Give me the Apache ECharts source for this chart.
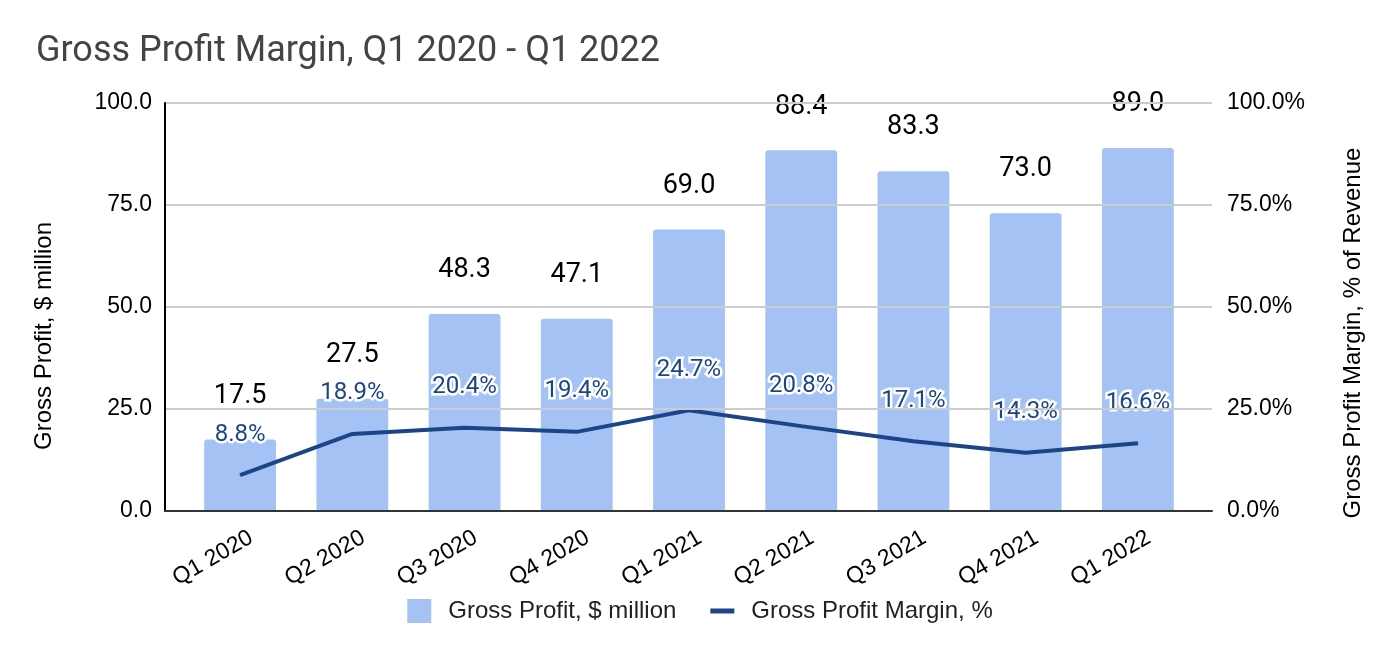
<!DOCTYPE html>
<html>
<head>
<meta charset="utf-8">
<script src="https://cdn.jsdelivr.net/npm/echarts@6/dist/echarts.min.js"></script>
<style>
html,body{margin:0;padding:0;background:#fff;}
#chart{width:1400px;height:658px;}
</style>
</head>
<body>
<div id="chart"></div>
<script>
const categories = ['Q1 2020','Q2 2020','Q3 2020','Q4 2020','Q1 2021','Q2 2021','Q3 2021','Q4 2021','Q1 2022'];
const grossProfit = [17.5, 27.5, 48.3, 47.1, 69.0, 88.4, 83.3, 73.0, 89.0];
const grossMargin = [8.8, 18.9, 20.4, 19.4, 24.7, 20.8, 17.1, 14.3, 16.6];
const leftTicks = [0, 25, 50, 75, 100];
const rightTicks = [0, 25, 50, 75, 100];

const barName = 'Gross Profit, $ million';
const lineName = 'Gross Profit Margin, %';

const chart = echarts.init(document.getElementById('chart'), null, {renderer: 'canvas'});
const axisFont = {fontFamily: 'Liberation Sans, Arial', fontSize: 23, color: '#000'};

chart.setOption({
  animation: false,
  backgroundColor: '#fff',
  title: {
    text: 'Gross Profit Margin, Q1 2020 - Q1 2022',
    left: 31, top: 29,
    textStyle: {fontFamily: 'Roboto', fontSize: 36, fontWeight: 'normal', color: '#444'}
  },
  legend: {
    bottom: 30, left: 'center',
    itemWidth: 24, itemHeight: 24, itemGap: 34,
    textStyle: {fontFamily: 'Liberation Sans, Arial', fontSize: 24, color: '#222', padding: [0,0,0,12]},
    data: [
      {name: barName, icon: 'rect'},
      {name: lineName, icon: 'path://M0,0H24V5H0Z'}
    ]
  },
  grid: [
    {left: 165, right: 188, top: 103, bottom: 147},
    {left: 184, right: 206, top: 103, bottom: 147},
    {left: 195, right: 195, top: 103, bottom: 147}
  ],
  xAxis: [
    {type: 'value', gridIndex: 0, min: 0, max: 1, z: 5,
     axisLine: {show: true, lineStyle: {color: '#333', width: 2}},
     axisTick: {show: false}, axisLabel: {show: false}, splitLine: {show: false}},
    {type: 'category', gridIndex: 1, data: categories,
     axisLine: {show: false}, axisTick: {show: false}, axisLabel: {show: false}},
    {type: 'category', gridIndex: 2, data: categories,
     axisLine: {show: false}, axisTick: {show: false},
     axisLabel: Object.assign({rotate: 30, margin: 25, interval: 0}, axisFont)}
  ],
  yAxis: [
    {type: 'value', gridIndex: 0, min: leftTicks[0], max: leftTicks[leftTicks.length-1], interval: 25, position: 'left', z: 5,
     name: 'Gross Profit, $ million', nameLocation: 'middle', nameGap: 109,
     nameTextStyle: {fontFamily: 'Liberation Sans, Arial', fontSize: 24, color: '#000', padding: [0, 58, 0, 0]},
     axisLine: {show: true, lineStyle: {color: '#000', width: 2}},
     axisTick: {show: false},
     axisLabel: Object.assign({margin: 13, formatter: v => v.toFixed(1)}, axisFont),
     splitLine: {show: true, lineStyle: {color: '#ccc', width: 2}}},
    {type: 'value', gridIndex: 0, min: rightTicks[0], max: rightTicks[rightTicks.length-1], interval: 25, position: 'right',
     name: 'Gross Profit Margin, % of Revenue', nameLocation: 'middle', nameGap: 129,
     nameTextStyle: {fontFamily: 'Liberation Sans, Arial', fontSize: 24, color: '#000', padding: [0, 52, 0, 0]},
     axisLine: {show: false}, axisTick: {show: false},
     axisLabel: Object.assign({margin: 15, formatter: v => v.toFixed(1) + '%'}, axisFont),
     splitLine: {show: false}},
    {type: 'value', gridIndex: 1, min: 0, max: 100, show: false},
    {type: 'value', gridIndex: 1, min: 0, max: 100, show: false},
    {type: 'value', gridIndex: 2, min: 0, max: 100, show: false}
  ],
  series: [
    {
      name: barName, type: 'bar', xAxisIndex: 1, yAxisIndex: 2,
      data: grossProfit, barWidth: '64%',
      itemStyle: {color: '#a4c2f4', borderRadius: [3, 3, 0, 0]},
      label: {show: true, position: 'top', distance: 30, formatter: p => p.value.toFixed(1),
        fontFamily: 'Roboto', fontSize: 27, color: '#000'}
    },
    {
      name: lineName, type: 'line', xAxisIndex: 1, yAxisIndex: 3,
      data: grossMargin, symbol: 'circle', symbolSize: 1, showSymbol: true,
      itemStyle: {color: '#1c4587'},
      lineStyle: {color: '#1c4587', width: 4},
      z: 3,
      label: {show: true, position: 'top', distance: 28, formatter: p => p.value.toFixed(1) + '%',
        fontFamily: 'Roboto', fontSize: 24, color: '#1c4587', textBorderColor: '#fff', textBorderWidth: 5}
    }
  ]
});
</script>
</body>
</html>
